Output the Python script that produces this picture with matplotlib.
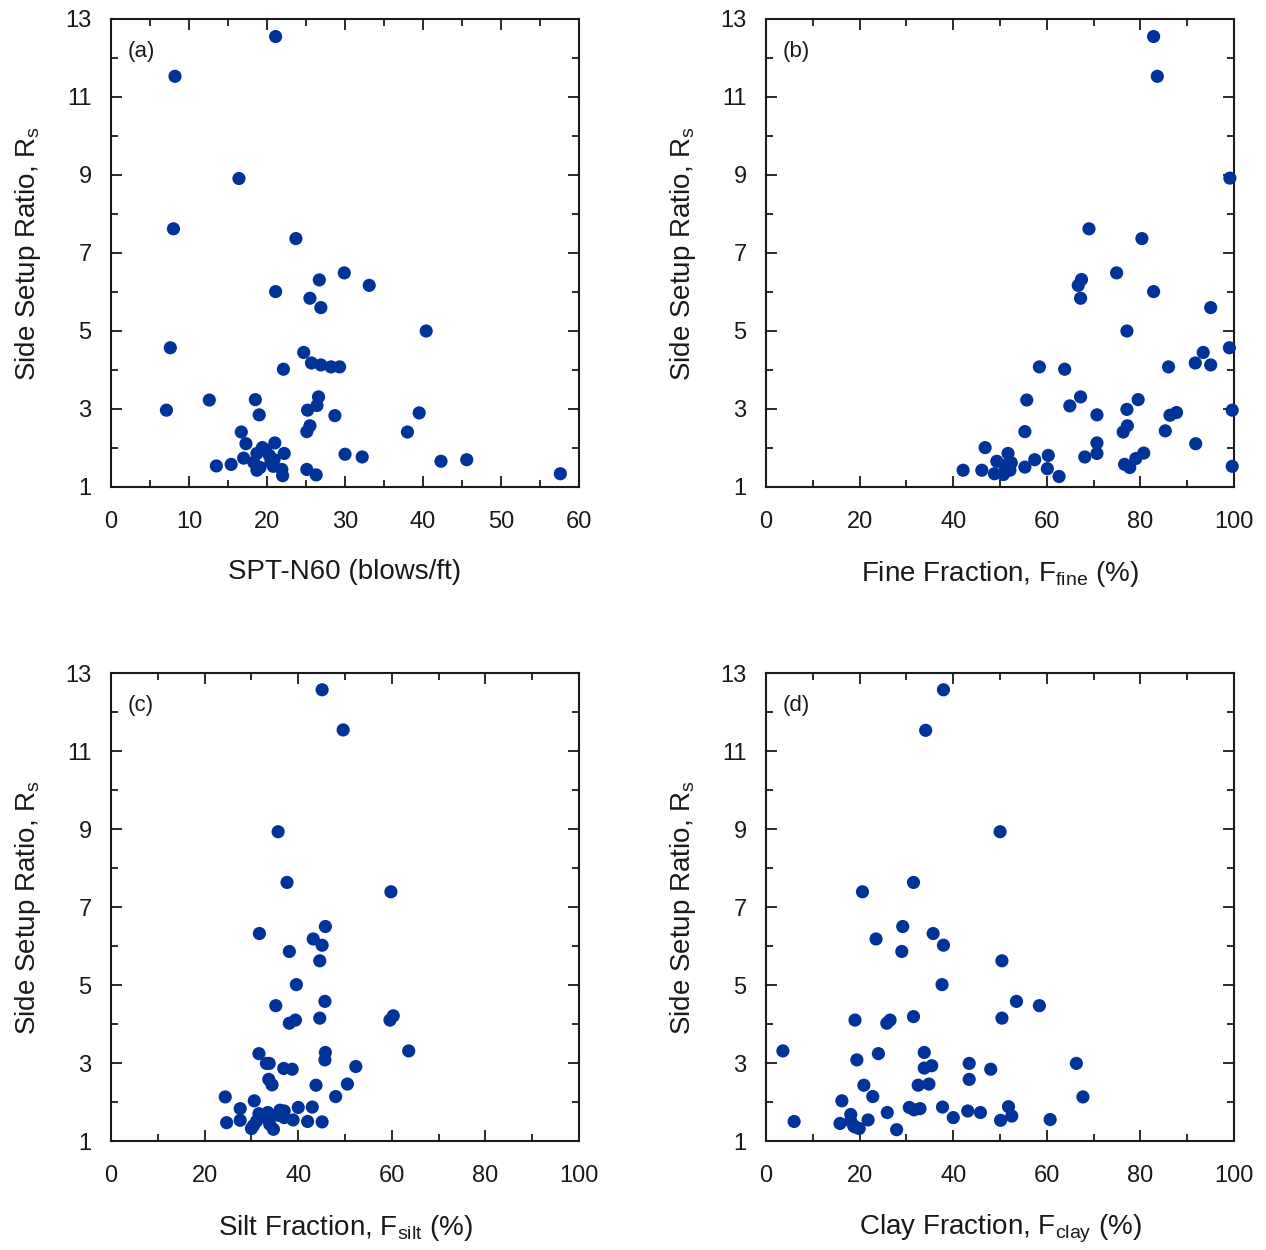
import matplotlib
matplotlib.use("Agg")
import matplotlib.pyplot as plt
from matplotlib.ticker import MultipleLocator, FixedLocator

plt.rcParams["font.family"] = ["Liberation Sans", "DejaVu Sans"]
plt.rcParams["mathtext.default"] = "regular"

# ── Data ──────────────────────────────────────────────────────────────
rs_a = [12.55, 11.53, 8.91, 7.62, 7.37, 6.49, 6.31, 6.17, 6.01, 5.84, 5.60, 5.00,
        4.57, 4.45, 4.18, 4.13, 4.08, 4.08, 4.02, 3.23, 3.24, 3.31, 3.09, 2.97,
        2.97, 2.85, 2.83, 2.90, 2.57, 2.42, 2.41, 2.41, 2.11, 2.13, 2.01, 1.86,
        1.86, 1.81, 1.74, 1.84, 1.77, 1.63, 1.64, 1.54, 1.58, 1.50, 1.43, 1.53,
        1.45, 1.29, 1.45, 1.31, 1.66, 1.70, 1.34, 1.70, 1.95]
spt_n60 = [21.1, 8.2, 16.4, 8.0, 23.7, 29.9, 26.7, 33.1, 21.1, 25.5, 26.9, 40.4,
           7.6, 24.7, 25.7, 26.9, 28.2, 29.3, 22.1, 12.6, 18.5, 26.6, 26.4, 7.1,
           25.2, 19.0, 28.7, 39.5, 25.5, 25.1, 16.7, 38.0, 17.3, 21.0, 19.4, 22.2,
           18.7, 20.3, 17.0, 30.0, 32.2, 18.3, 20.5, 13.5, 15.4, 19.1, 18.7, 20.8,
           21.9, 22.0, 25.1, 26.3, 42.3, 45.6, 57.6, 20.9, 19.8]

rs_b = [12.55, 11.53, 8.92, 7.62, 7.37, 6.49, 6.32, 6.17, 6.01, 5.84, 5.60, 5.00,
        4.57, 4.45, 4.18, 4.13, 4.08, 4.08, 4.02, 3.23, 3.24, 3.31, 3.08, 2.97,
        2.99, 2.85, 2.91, 2.84, 2.57, 2.41, 2.42, 2.44, 2.13, 2.11, 2.01, 1.86,
        1.86, 1.81, 1.87, 1.77, 1.73, 1.70, 1.66, 1.62, 1.51, 1.58, 1.50, 1.53,
        1.43, 1.43, 1.34, 1.32, 1.43, 1.47, 1.27, 1.55]
fine = [82.8, 83.6, 99.1, 69.0, 80.3, 74.9, 67.4, 66.7, 82.8, 67.2, 95.0, 77.1,
        99.0, 93.4, 91.7, 95.0, 86.0, 58.4, 63.8, 55.7, 79.5, 67.2, 64.9, 99.6,
        77.1, 70.7, 87.7, 86.3, 77.2, 76.3, 55.3, 85.3, 70.7, 91.8, 46.8, 51.7,
        70.7, 60.3, 80.7, 68.1, 79.0, 57.4, 49.3, 52.4, 55.3, 76.6, 77.7, 99.6,
        42.1, 46.1, 48.8, 50.7, 52.1, 60.1, 62.6, 51.0]

rs_c = [12.57, 11.54, 8.93, 7.63, 7.39, 6.50, 6.32, 6.18, 6.02, 5.86, 5.62, 5.01,
        4.58, 4.47, 4.15, 4.21, 4.10, 4.10, 4.02, 3.24, 3.27, 3.31, 3.08, 2.99,
        2.99, 2.86, 2.84, 2.91, 2.58, 2.44, 2.43, 2.46, 2.13, 2.03, 2.14, 1.83,
        1.86, 1.87, 1.79, 1.77, 1.70, 1.73, 1.47, 1.53, 1.60, 1.54, 1.50, 1.49,
        1.39, 1.32, 1.51, 1.43, 1.30, 1.60, 1.66]
silt = [45.1, 49.6, 35.7, 37.6, 59.8, 45.8, 31.7, 43.2, 45.1, 38.1, 44.6, 39.6,
        45.7, 35.2, 44.6, 60.3, 59.6, 39.4, 38.1, 31.6, 45.8, 63.6, 45.7, 33.2,
        33.8, 36.9, 38.7, 52.3, 33.7, 34.4, 43.8, 50.5, 24.4, 30.6, 48.0, 27.6,
        40.0, 43.0, 36.1, 37.0, 31.6, 33.5, 24.7, 27.6, 37.0, 38.9, 42.0, 45.1,
        30.4, 30.0, 31.1, 33.9, 34.7, 33.2, 35.8]

rs_d = [12.57, 11.53, 8.93, 7.63, 7.39, 6.50, 6.32, 6.18, 6.02, 5.86, 5.62, 5.01,
        4.58, 4.47, 4.15, 4.19, 4.10, 4.10, 4.02, 3.31, 3.24, 3.27, 3.08, 2.99,
        2.99, 2.87, 2.93, 2.84, 2.58, 2.43, 2.46, 2.43, 2.14, 2.13, 2.03, 1.86,
        1.80, 1.83, 1.87, 1.88, 1.77, 1.73, 1.73, 1.68, 1.64, 1.60, 1.54, 1.50,
        1.45, 1.53, 1.55, 1.51, 1.39, 1.32, 1.29, 1.36]
clay = [37.9, 34.1, 50.0, 31.5, 20.6, 29.2, 35.7, 23.5, 37.9, 29.0, 50.4, 37.6,
        53.5, 58.4, 50.4, 31.5, 19.0, 26.5, 25.8, 3.6, 24.0, 33.8, 19.4, 43.4,
        66.3, 33.8, 35.4, 48.0, 43.4, 32.5, 34.8, 20.9, 22.8, 67.7, 16.2, 30.6,
        31.6, 32.9, 37.7, 51.8, 43.1, 45.8, 25.9, 18.1, 52.5, 40.0, 21.8, 6.0,
        15.8, 50.1, 60.7, 18.1, 18.7, 19.9, 27.9, 19.0]

y_major = [1, 3, 5, 7, 9, 11, 13]
y_minor = [2, 4, 6, 8, 10, 12]

panels = [
    ("(a)", spt_n60, rs_a, "SPT-N60 (blows/ft)", 60, 10),
    ("(b)", fine, rs_b, "Fine Fraction, F$_{fine}$ (%)", 100, 20),
    ("(c)", silt, rs_c, "Silt Fraction, F$_{silt}$ (%)", 100, 20),
    ("(d)", clay, rs_d, "Clay Fraction, F$_{clay}$ (%)", 100, 20),
]

# axes boxes in figure fractions: left, bottom, width, height
boxes = [
    (0.0877, 0.6104, 0.3697, 0.3744),
    (0.6051, 0.6104, 0.3697, 0.3744),
    (0.0877, 0.0872, 0.3697, 0.3744),
    (0.6051, 0.0872, 0.3697, 0.3744),
]

MARKER = "#003399"
INK = "#1a1a1a"

fig = plt.figure(figsize=(12.66, 12.5), dpi=100)
fig.patch.set_facecolor("white")

for (tag, xs, ys, xlabel, xmax, xstep), bx in zip(panels, boxes):
    ax = fig.add_axes(bx)
    ax.scatter(xs, ys, s=90, color=MARKER, edgecolors="none", zorder=3,
               clip_on=False)
    ax.set_xlim(0, xmax)
    ax.set_ylim(1, 13)
    ax.xaxis.set_major_locator(MultipleLocator(xstep))
    ax.xaxis.set_minor_locator(MultipleLocator(xstep / 2))
    ax.yaxis.set_major_locator(FixedLocator(y_major))
    ax.yaxis.set_minor_locator(FixedLocator(y_minor))
    ax.tick_params(which="both", direction="in", top=True, right=True,
                   width=1.3, labelsize=17, colors=INK)
    ax.tick_params(which="major", length=8)
    ax.tick_params(which="minor", length=5)
    ax.tick_params(axis="x", which="major", pad=17)
    ax.tick_params(axis="y", which="major", pad=14)
    for sp in ax.spines.values():
        sp.set_linewidth(1.5)
        sp.set_color(INK)
    ax.set_xlabel(xlabel, fontsize=20, labelpad=19, color=INK)
    ax.set_ylabel("Side Setup Ratio, R$_{s}$", fontsize=20, labelpad=16,
                  color=INK)
    ax.text(0.036, 0.952, tag, transform=ax.transAxes, ha="left", va="top",
            fontsize=16, color=INK)

fig.savefig("out.png", dpi=100, facecolor="white")
plt.close()
